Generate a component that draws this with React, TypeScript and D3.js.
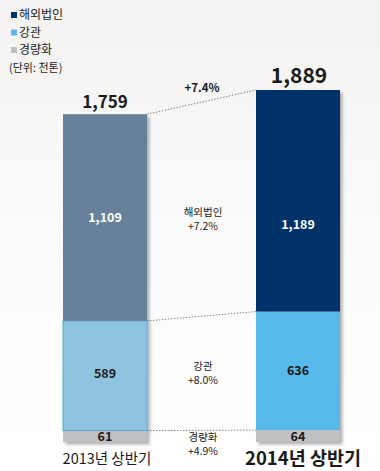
import React from "react";
import * as d3 from "d3";

const periods = ["2013년 상반기", "2014년 상반기"];
const seriesNames = ["경량화", "강관", "해외법인"];
const lightweight = [61, 64];
const pipe = [589, 636];
const overseas = [1109, 1189];
const totals = [1759, 1889];
const growthLabels = ["+4.9%", "+8.0%", "+7.2%"];
const totalGrowth = "+7.4%";
const unitLabel = "(단위: 천톤)";

const W = 380;
const H = 471;
const FONT = "'Noto Sans CJK KR', 'Noto Sans', sans-serif";

const colors2013 = ["#c0c0c0", "#8fc4e0", "#67819b"];
const colors2014 = ["#c0c0c0", "#56b9e9", "#03336a"];
const legendColors = ["#03336a", "#56b9e9", "#c0c0c0"];
const legendNames = ["해외법인", "강관", "경량화"];

export default function App() {
  const y = d3.scaleLinear().domain([0, 1889]).range([442, 90]);
  const x = d3.scalePoint<string>().domain(periods).range([105, 298]);
  const bw = 84;

  const rows = periods.map((p, i) => ({
    period: p,
    [seriesNames[0]]: lightweight[i],
    [seriesNames[1]]: pipe[i],
    [seriesNames[2]]: overseas[i],
  }));
  const stacked = d3.stack<any>().keys(seriesNames)(rows);

  const labelColor = (si: number) => (si === 2 ? "#ffffff" : "#1a1a1a");
  const labelOffset = [[0, 0], [-2, 0], [0, 24]];

  return (
    <svg width={W} height={H} style={{ position: "absolute", left: 0, top: 0 }}>
      <defs>
        <linearGradient id="bg" x1="0" y1="0" x2="0" y2="1">
          <stop offset="0" stopColor="#f3f2f0" />
          <stop offset="0.5" stopColor="#fbfbfa" />
          <stop offset="1" stopColor="#ffffff" />
        </linearGradient>
        <filter id="sh" x="-10%" y="-10%" width="130%" height="130%">
          <feDropShadow dx="2.5" dy="2.5" stdDeviation="1.5" floodColor="#000" floodOpacity="0.3" />
        </filter>
      </defs>
      <rect width={W} height={H} fill="url(#bg)" />

      {/* legend */}
      {legendNames.map((n, i) => (
        <g key={n}>
          <rect x={11} y={12 + i * 17.5} width={6} height={6} fill={legendColors[i]} />
          <text x={19} y={19 + i * 17.5} fontSize={12} fontFamily={FONT} fill="#222">
            {n}
          </text>
        </g>
      ))}
      <text x={9} y={72} fontSize={11} fontFamily={FONT} fill="#222">
        {unitLabel}
      </text>

      {/* connector lines */}
      {[0, 1, 2].map((si) => (
        <line
          key={si}
          x1={(x(periods[0]) as number) + bw / 2}
          y1={y(stacked[si][0][1])}
          x2={(x(periods[1]) as number) - bw / 2}
          y2={y(stacked[si][1][1])}
          stroke="#777"
          strokeWidth={0.9}
          strokeDasharray="1.5,1.5"
        />
      ))}

      {/* bars */}
      {periods.map((p, pi) => (
        <g key={p} filter="url(#sh)">
          {stacked.map((s, si) => (
            <rect
              key={si}
              x={(x(p) as number) - bw / 2}
              y={y(s[pi][1])}
              width={bw}
              height={y(s[pi][0]) - y(s[pi][1])}
              fill={(pi === 0 ? colors2013 : colors2014)[si]}
              stroke={pi === 0 && si === 1 ? "#55a9d8" : "none"}
              strokeWidth={1}
            />
          ))}
        </g>
      ))}

      {/* segment labels */}
      {periods.map((p, pi) =>
        stacked.map((s, si) => (
          <text
            key={p + si}
            x={x(p) as number}
            y={(y(s[pi][0]) + y(s[pi][1])) / 2 + labelOffset[si][pi] + 4.5}
            textAnchor="middle"
            fontSize={12.5}
            fontWeight="bold"
            fontFamily={FONT}
            fill={labelColor(si)}
          >
            {d3.format(",")(s[pi][1] - s[pi][0])}
          </text>
        ))
      )}

      {/* totals */}
      <text x={x(periods[0]) as number} y={y(totals[0]) - 6} textAnchor="middle" fontSize={17} fontWeight="bold" fontFamily={FONT} fill="#1a1a1a">
        {d3.format(",")(totals[0])}
      </text>
      <text x={(x(periods[1]) as number) + 1} y={y(totals[1]) - 7} textAnchor="middle" fontSize={21} fontWeight="bold" fontFamily={FONT} fill="#1a1a1a">
        {d3.format(",")(totals[1])}
      </text>
      <text x={202} y={92} textAnchor="middle" fontSize={11.5} fontWeight="bold" fontFamily={FONT} fill="#1a1a1a">
        {totalGrowth}
      </text>

      {/* growth labels in middle */}
      {[
        { name: seriesNames[2], g: growthLabels[2], y0: 216 },
        { name: seriesNames[1], g: growthLabels[1], y0: 370 },
        { name: seriesNames[0], g: growthLabels[0], y0: 441 },
      ].map((d) => (
        <g key={d.name}>
          <text x={203} y={d.y0} textAnchor="middle" fontSize={10.5} fontFamily={FONT} fill="#222">
            {d.name}
          </text>
          <text x={203} y={d.y0 + 14} textAnchor="middle" fontSize={10.5} fontFamily={FONT} fill="#222">
            {d.g}
          </text>
        </g>
      ))}

      {/* x labels */}
      <text x={107} y={464} textAnchor="middle" fontSize={14.5} fontFamily={FONT} fill="#1a1a1a">
        {periods[0]}
      </text>
      <text x={303} y={465} textAnchor="middle" fontSize={18.5} fontWeight="bold" fontFamily={FONT} fill="#1a1a1a">
        {periods[1]}
      </text>
    </svg>
  );
}
